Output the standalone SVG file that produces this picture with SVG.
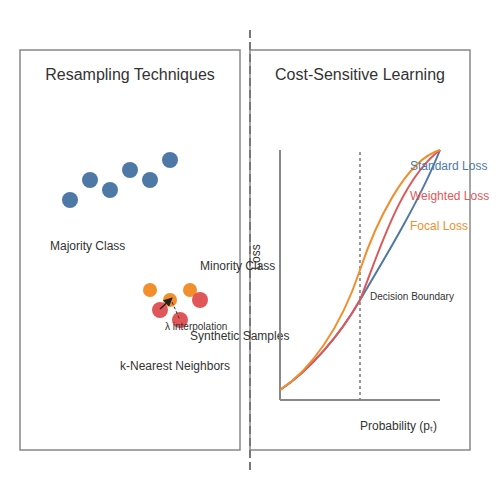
<svg xmlns="http://www.w3.org/2000/svg" width="500" height="500" viewBox="0 0 500 500">
<defs>
<style>
.panel{fill:#fff;stroke:#888;stroke-width:1.5}
.t{font-family:"Liberation Sans",Arial,sans-serif;fill:#333}
.title{font-size:16px;text-anchor:middle}
.lbl{font-size:12px}
.sm{font-size:10px}
.maj{fill:#4e79a7}
.min{fill:#e15759}
.syn{fill:#f28e2b}
.axis{stroke:#888;stroke-width:2;fill:none}
.curve{fill:none;stroke-width:2}
</style>
<marker id="ah" viewBox="0 0 10 10" refX="9" refY="5" markerWidth="6" markerHeight="6" orient="auto"><path d="M0,0L10,5L0,10z" fill="#222"/></marker>
</defs>
<rect width="500" height="500" fill="#fff"/>
<g id="left-panel">
<rect class="panel" x="20" y="50" width="220" height="400"/>
<text class="t title" x="130" y="80">Resampling Techniques</text>
</g>
<g id="right-panel">
<rect class="panel" x="250" y="50" width="220" height="400"/>
<text class="t title" x="360" y="80">Cost-Sensitive Learning</text>
</g>
<line x1="250" y1="30" x2="250" y2="470" stroke="#777" stroke-width="2" stroke-dasharray="8,4"/>
<g id="majority">
<circle class="maj" cx="70" cy="200" r="8"/>
<circle class="maj" cx="90" cy="180" r="8"/>
<circle class="maj" cx="110" cy="190" r="8"/>
<circle class="maj" cx="130" cy="170" r="8"/>
<circle class="maj" cx="150" cy="180" r="8"/>
<circle class="maj" cx="170" cy="160" r="8"/>
<text class="t lbl" x="50" y="250">Majority Class</text>
</g>
<g id="minority">
<circle class="syn" cx="150" cy="290" r="7"/>
<circle class="syn" cx="190" cy="290" r="7"/>
<circle class="syn" cx="170" cy="300" r="7"/>
<circle class="min" cx="160" cy="310" r="8"/>
<circle class="min" cx="180" cy="320" r="8"/>
<circle class="min" cx="200" cy="300" r="8"/>
<text class="t lbl" x="200" y="270">Minority Class</text>
</g>
<g id="connectors">
<line x1="160" y1="309" x2="172" y2="298" stroke="#222" stroke-width="1.5" marker-end="url(#ah)"/>
<line x1="172" y1="302" x2="180" y2="320" stroke="#333" stroke-width="1" stroke-dasharray="3,2"/>
</g>
<text class="t sm" x="165" y="330">λ interpolation</text>
<text class="t lbl" x="190" y="340">Synthetic Samples</text>
<text class="t lbl" x="120" y="370">k-Nearest Neighbors</text>
<g id="plot">
<line class="axis" x1="280" y1="150" x2="280" y2="400"/>
<line class="axis" x1="280" y1="400" x2="440" y2="400"/>
<line x1="360" y1="152" x2="360" y2="400" stroke="#777" stroke-width="1.5" stroke-dasharray="3,3"/>
<path class="curve" stroke="#4e79a7" d="M280,390 C310,370 340,335 360,300 C385,258 420,200 440,150"/>
<path class="curve" stroke="#e15759" d="M280,390 C310,370 340,335 360,300 C378,255 400,180 440,150"/>
<path class="curve" stroke="#f28e2b" d="M280,390 C310,370 340,330 360,270 C375,225 405,160 440,150"/>
<text class="t lbl" transform="translate(260,257) rotate(-90)" text-anchor="middle">Loss</text>
<text class="t sm" x="370" y="300">Decision Boundary</text>
<text class="t lbl" x="360" y="430">Probability (pₜ)</text>
<text class="lbl" x="410" y="170" fill="#4e79a7" font-family="Liberation Sans,Arial,sans-serif">Standard Loss</text>
<text class="lbl" x="410" y="200" fill="#e15759" font-family="Liberation Sans,Arial,sans-serif">Weighted Loss</text>
<text class="lbl" x="410" y="230" fill="#f28e2b" font-family="Liberation Sans,Arial,sans-serif">Focal Loss</text>
</g>
</svg>
